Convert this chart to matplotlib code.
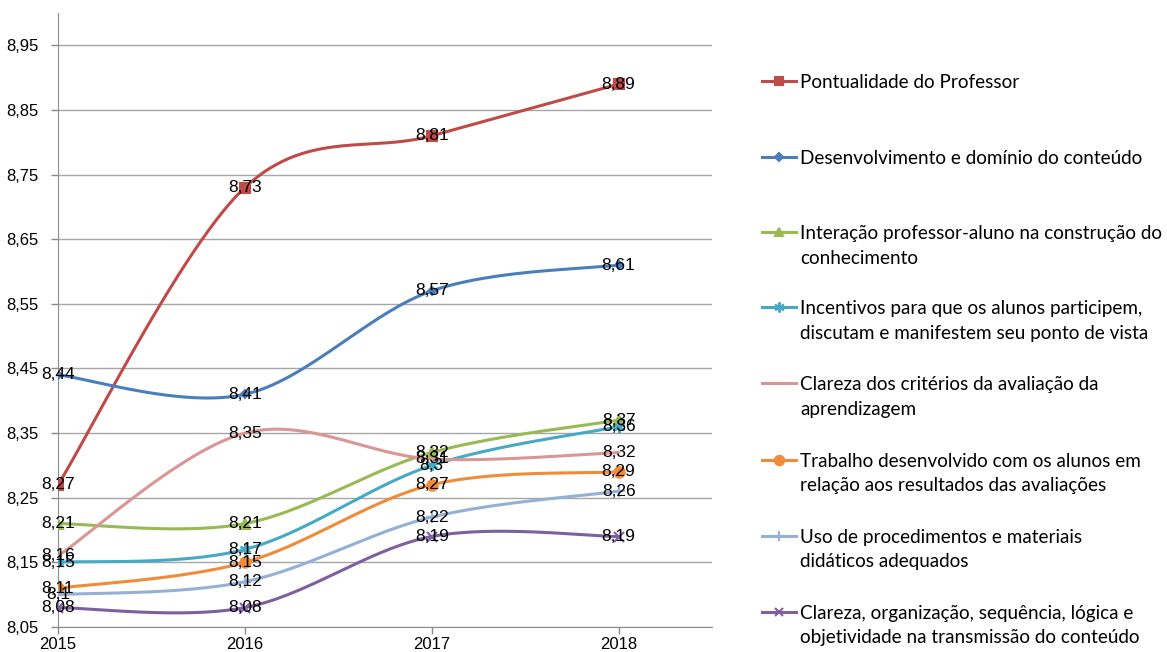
import numpy as np
import matplotlib
matplotlib.use("Agg")
import matplotlib.pyplot as plt
from matplotlib.lines import Line2D
from matplotlib.ticker import FixedLocator, FuncFormatter

years = ["2015", "2016", "2017", "2018"]
series_names = [
    "Pontualidade do Professor",
    "Desenvolvimento e domínio do conteúdo",
    "Interação professor-aluno na construção do\nconhecimento",
    "Incentivos para que os alunos participem,\ndiscutam e manifestem seu ponto de vista",
    "Clareza dos critérios da avaliação da\naprendizagem",
    "Trabalho desenvolvido com os alunos em\nrelação aos resultados das avaliações",
    "Uso de procedimentos e materiais\ndidáticos adequados",
    "Clareza, organização, sequência, lógica e\nobjetividade na transmissão do conteúdo",
]
pontualidade = [8.27, 8.73, 8.81, 8.89]
desenvolvimento = [8.44, 8.41, 8.57, 8.61]
interacao = [8.21, 8.21, 8.32, 8.37]
incentivos = [8.15, 8.17, 8.30, 8.36]
clareza_criterios = [8.16, 8.35, 8.31, 8.32]
trabalho = [8.11, 8.15, 8.27, 8.29]
uso_procedimentos = [8.10, 8.12, 8.22, 8.26]
clareza_organizacao = [8.08, 8.08, 8.19, 8.19]
all_values = [pontualidade, desenvolvimento, interacao, incentivos,
              clareza_criterios, trabalho, uso_procedimentos, clareza_organizacao]
y_ticks = [8.05, 8.15, 8.25, 8.35, 8.45, 8.55, 8.65, 8.75, 8.85, 8.95]

colors = ["#BE4B48", "#4A7EBB", "#98B954", "#46AAC5", "#D99694", "#F08B3A", "#95B0D6", "#7D60A0"]
markers = ["s", "D", "^", (6, 2, 0), None, "o", "+", "x"]
msizes = [7, 4.5, 7, 8, 0, 7.5, 8, 7]

W, H = 1167, 652
fig = plt.figure(figsize=(W / 100, H / 100), dpi=100)
ax = fig.add_axes([58 / W, 1 - 627 / H, (712 - 58) / W, (627 - 13) / H])

def smooth(xs, ys, n=60):
    P = np.column_stack([xs, ys]).astype(float)
    out = []
    for i in range(len(P) - 1):
        prev = P[i - 1] if i > 0 else P[i]
        nxt = P[i + 2] if i + 2 < len(P) else P[i + 1]
        c1 = P[i] + (P[i + 1] - prev) / 6.0
        c2 = P[i + 1] - (nxt - P[i]) / 6.0
        t = np.linspace(0, 1, n)[:, None]
        seg = ((1 - t) ** 3) * P[i] + 3 * ((1 - t) ** 2) * t * c1 + 3 * (1 - t) * t ** 2 * c2 + t ** 3 * P[i + 1]
        out.append(seg if i == 0 else seg[1:])
    return np.vstack(out)

xs = np.arange(len(years))
for k, vals in enumerate(all_values):
    c = smooth(xs, vals)
    ax.plot(c[:, 0], c[:, 1], color=colors[k], lw=2.2, zorder=3 + k * 0.1, solid_capstyle="round")
    if markers[k] is not None:
        ax.plot(xs, vals, ls="none", marker=markers[k], ms=msizes[k], color=colors[k],
                mec=colors[k], mew=1.5, zorder=3.05 + k * 0.1)

for k, vals in enumerate(all_values):
    for x, v in zip(xs, vals):
        ax.text(x, v, f"{v:g}".replace(".", ","), ha="center", va="center",
                fontsize=12.5, family="Liberation Sans", color="black", zorder=10)

ax.set_xlim(0, 3.5)
ax.set_ylim(8.05, 9.0)
ax.set_xticks(xs)
ax.set_xticklabels(years, fontsize=12, family="Liberation Sans")
ax.yaxis.set_major_locator(FixedLocator(y_ticks))
ax.yaxis.set_major_formatter(FuncFormatter(lambda v, p: f"{v:.2f}".replace(".", ",")))
for lab in ax.get_yticklabels():
    lab.set_fontsize(12)
    lab.set_family("Liberation Sans")
ax.grid(axis="y", color="#A6A6A6", lw=1.0)
ax.set_axisbelow(True)
for s in ["top", "right"]:
    ax.spines[s].set_visible(False)
ax.spines["left"].set_color("#8C8C8C")
ax.spines["bottom"].set_color("#8C8C8C")
ax.tick_params(axis="both", colors="#8C8C8C", labelcolor="black", length=5, width=1)
ax.tick_params(axis="x", pad=2)
ax.tick_params(axis="y", pad=9)

# legend
leg_font = "Lato"
renderer = fig.canvas.get_renderer()
probe = fig.text(0, 0, series_names[1], fontsize=12, family=leg_font)
wpx = probe.get_window_extent(renderer).width
probe.remove()
leg_size = 12 * 343.0 / wpx
first_y = [81, 157, 232, 307, 383, 460, 536, 612]
for k, name in enumerate(series_names):
    yl = 1 - first_y[k] / H
    fig.lines.append(Line2D([762 / W, 796 / W], [yl, yl], transform=fig.transFigure,
                            color=colors[k], lw=2.2))
    if markers[k] is not None:
        fig.lines.append(Line2D([779 / W], [yl], transform=fig.transFigure, ls="none",
                                marker=markers[k], ms=msizes[k] * 0.9, color=colors[k],
                                mec=colors[k], mew=1.5))
    for j, line in enumerate(name.split("\n")):
        fig.text(800 / W, 1 - (first_y[k] + 24.5 * j) / H, line, fontsize=leg_size, family=leg_font,
                 va="center_baseline", ha="left", color="black")

fig.savefig("out.png", dpi=100)
